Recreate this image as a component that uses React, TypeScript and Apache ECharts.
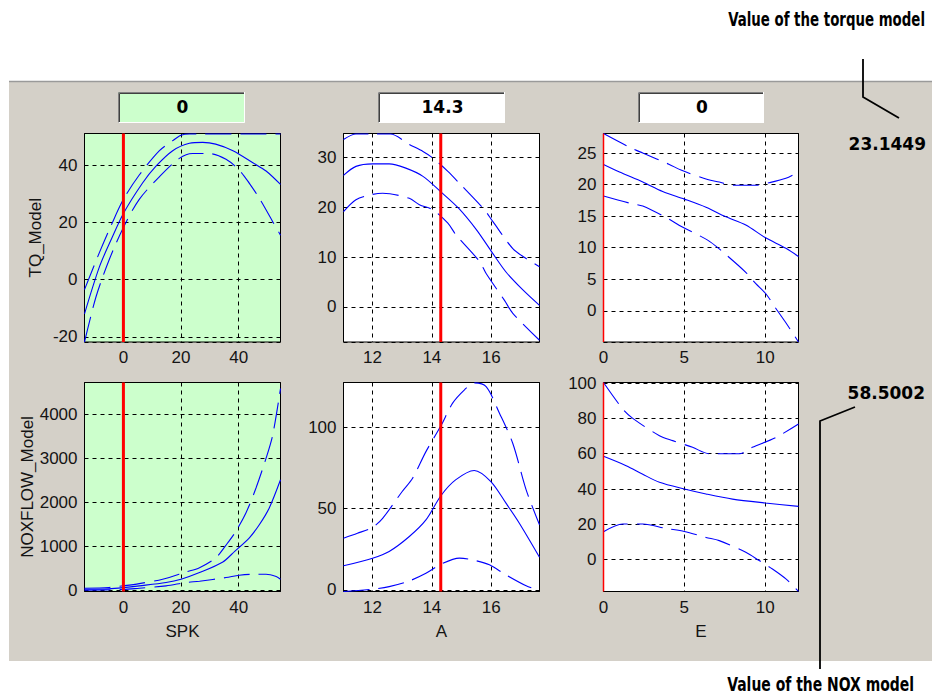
import React, { useEffect, useRef } from 'react';
import * as echarts from 'echarts';

type Pt = [number, number];

// ---------- operating point / labels ----------
const currentSPK = 0;
const currentA = 14.3;
const currentE = 0;
const inputLabels = ['0', '14.3', '0'];
const tqValueLabel = '23.1449';
const noxValueLabel = '58.5002';
const xNames = ['SPK', 'A', 'E'];
const yNames = ['TQ_Model', 'NOXFLOW_Model'];
const torqueNote = 'Value of the torque model';
const noxNote = 'Value of the NOX model';

// ---------- axis ranges & tick steps ----------
const spkRange: Pt = [-13.5, 54.5];
const aRange: Pt = [11.02, 17.63];
const eRange: Pt = [0, 12.06];
const xSteps = [20, 2, 5];

const tqRanges: Pt[] = [[-21.8, 51], [-7.05, 34.8], [-4.95, 28.1]];
const tqSteps = [20, 10, 5];
const noxRanges: Pt[] = [[-30, 4725], [-1, 127.5], [-18, 100.3]];
const noxSteps = [1000, 50, 20];

// ---------- TQ_Model vs SPK ----------
const tqSpkMean: Pt[] = [[-13.5, -12], [-8.3, 4.5], [-4, 14.5], [0, 23.1], [6.7, 33.8], [11.3, 39.6], [17.1, 45], [22.9, 47.6], [27.5, 47.9], [32, 47.3], [38, 45], [44.9, 40.8], [49.5, 37.9], [54.5, 33.2]];
const tqSpkUpper: Pt[] = [[-13.5, -3.5], [-8.3, 9.5], [-4, 19.5], [0, 28], [5.5, 36.5], [12.5, 45], [17.1, 48.5], [20, 50.4], [23, 50.8], [54.5, 50.8]];
const tqSpkLower: Pt[] = [[-13.5, -21.8], [-9.5, -6], [-4.9, 7], [0, 18.2], [5.5, 28], [12.5, 35.9], [19.4, 42.3], [24, 44], [29.8, 44], [35.6, 42], [40.2, 38.2], [43.7, 33.6], [47.2, 28.3], [51.8, 20.2], [54.5, 15.5]];

// ---------- TQ_Model vs A ----------
const tqAMean: Pt[] = [[11.02, 26.4], [11.44, 28.2], [12, 28.7], [12.56, 28.7], [13.1, 27.9], [13.7, 26.2], [14.3, 23.1], [14.9, 19.8], [15.5, 15.5], [16, 11.2], [16.5, 7], [17.07, 3.4], [17.63, 0.3]];
const tqAUpper: Pt[] = [[11.02, 33.6], [11.44, 34.7], [12, 34.7], [12.6, 34.7], [13.24, 32.6], [13.7, 31.2], [14.03, 29.9], [14.54, 27.2], [14.93, 24.8], [15.77, 19.5], [16.06, 17.1], [16.73, 11.7], [17.18, 9.7], [17.63, 8.05]];
const tqALower: Pt[] = [[11.02, 19.1], [11.44, 21.5], [11.94, 22.5], [12.34, 22.8], [13.24, 21.8], [13.58, 20.5], [14.03, 19.5], [14.54, 16.8], [14.82, 14.4], [15.61, 9.1], [15.83, 6.7], [16.45, 1.3], [16.73, -1.3], [17.63, -6.7]];

// ---------- TQ_Model vs E ----------
const tqEMean: Pt[] = [[0, 23.2], [0.99, 22], [2.43, 20.4], [3.66, 18.9], [5, 17.7], [6.34, 16.4], [7.57, 14.9], [8.8, 13.6], [10, 11.6], [11.28, 9.9], [12.06, 8.6]];
const tqEUpper: Pt[] = [[0, 28.1], [1.71, 25.8], [2.43, 25], [4.07, 23.2], [4.79, 22.3], [6.44, 20.8], [7.16, 20.4], [7.98, 19.9], [9.42, 19.9], [10.25, 20.3], [11.28, 21], [12.06, 22]];
const tqELower: Pt[] = [[0, 18.2], [1.71, 17], [2.43, 16.6], [4.07, 14.5], [4.79, 13.4], [6.44, 11.2], [7.16, 9.8], [8.8, 6.1], [9.42, 4.3], [10.04, 2.7], [10.76, 0], [11.28, -1.9], [12.06, -4.95]];

// ---------- NOXFLOW_Model vs SPK ----------
const noxSpkMean: Pt[] = [[-13.5, 20], [-5, 32], [0, 58.5], [5.5, 98], [14.8, 174], [20, 249], [26.4, 400], [34.5, 642], [38.7, 890], [43.7, 1192], [47.2, 1494], [50.6, 1872], [54.5, 2513]];
const noxSpkUpper: Pt[] = [[-13.5, 45], [-5, 62], [0, 100], [5.5, 150], [13.6, 250], [21.7, 415], [26.4, 513], [32.1, 740], [36.2, 1079], [38.7, 1306], [42.5, 1758], [46, 2325], [49.5, 3004], [51.8, 3532], [54.5, 4589]];
const noxSpkLower: Pt[] = [[-13.5, 0], [0, 16], [5.5, 45], [14.8, 98], [21.7, 174], [26.4, 204], [35.6, 287], [40.2, 340], [44.9, 362], [49.5, 362], [53, 310], [54.5, 249]];

// ---------- NOXFLOW_Model vs A ----------
const noxAMean: Pt[] = [[11.02, 14.8], [12, 19.5], [12.56, 23.6], [13.24, 32.8], [13.8, 43], [14.31, 58], [14.8, 67.6], [15.43, 73.4], [15.99, 66.6], [16.5, 53.3], [16.95, 41], [17.63, 20.1]];
const noxAUpper: Pt[] = [[11.02, 31.8], [11.49, 34.8], [12, 38.5], [12.34, 44], [13, 60.5], [13.35, 68.6], [13.8, 85], [14.31, 101], [14.7, 114.8], [15.1, 123], [15.43, 127.3], [15.83, 125], [16.28, 108.6], [16.73, 90], [17.18, 61.5], [17.63, 40]];
const noxALower: Pt[] = [[11.02, -1], [12, 0.4], [12.56, 2], [13.24, 5.5], [13.8, 10.2], [14.31, 15.8], [14.93, 19.5], [15.38, 18.4], [15.94, 15.4], [16.5, 9.2], [17.18, 2.5], [17.63, -0.4]];

// ---------- NOXFLOW_Model vs E ----------
const noxEMean: Pt[] = [[0, 58.5], [1.4, 53.2], [2.4, 48.5], [3.46, 43.8], [5, 40], [6.34, 37.2], [7.98, 34.3], [10, 32.1], [12.06, 30.2]];
const noxEUpper: Pt[] = [[0, 100.3], [1.19, 85.3], [1.81, 80], [3.46, 70.2], [4.28, 67.4], [5.51, 63.6], [6.54, 60], [8.4, 60], [9.2, 63.6], [10.66, 69.2], [12.06, 76.8]];
const noxELower: Pt[] = [[0, 15.8], [1.19, 20.2], [2.43, 20.2], [3.87, 17.7], [5, 16], [6.34, 12.6], [7.16, 10.8], [8.8, 4.2], [9.63, -0.5], [10.45, -5.3], [11.28, -10.9], [12.06, -17.9]];

// ---------- layout (px) ----------
const gridRects = [
  { left: 84.5, top: 133.5, width: 196, height: 208.5 },
  { left: 343.5, top: 133.5, width: 196, height: 208.5 },
  { left: 603.5, top: 133.5, width: 195, height: 208.5 },
  { left: 84.5, top: 382.5, width: 196, height: 209 },
  { left: 343.5, top: 382.5, width: 196, height: 209 },
  { left: 603.5, top: 382.5, width: 195, height: 209 },
];
const boxRects = [
  { x: 118, y: 92, w: 127, h: 31 },
  { x: 378, y: 92, w: 127, h: 31 },
  { x: 638, y: 92, w: 126, h: 31 },
];
const redWidths = [3, 3, 1.5];

const GREEN = '#ccffcc';
const GRAY = '#d4d0c8';
const BLUE = '#0000ff';
const RED = '#ff0000';
const AXIS_FONT = "'Liberation Sans', Arial, sans-serif";
const NUM_FONT = "'DejaVu Sans', sans-serif";
const NOTE_FONT = "'DejaVu Sans Condensed', 'DejaVu Sans', sans-serif";

function measure(text: string, font: string): number {
  const c = document.createElement('canvas');
  const ctx = c.getContext('2d');
  if (!ctx) return text.length * 9;
  ctx.font = font;
  return ctx.measureText(text).width;
}

function isMult(v: number, step: number): boolean {
  const r = v / step;
  return Math.abs(r - Math.round(r)) < 1e-6;
}

function boxElements(b: { x: number; y: number; w: number; h: number }, fill: string) {
  const { x, y, w, h } = b;
  return [
    { type: 'rect', z: -5, shape: { x, y, width: w, height: h }, style: { fill } },
    { type: 'polyline', z: -4, shape: { points: [[x + 0.5, y + h], [x + 0.5, y + 0.5], [x + w, y + 0.5]] }, style: { stroke: '#808080', lineWidth: 1, fill: 'none' } },
    { type: 'polyline', z: -4, shape: { points: [[x + 1.5, y + h - 1], [x + 1.5, y + 1.5], [x + w - 1, y + 1.5]] }, style: { stroke: '#404040', lineWidth: 1, fill: 'none' } },
    { type: 'polyline', z: -4, shape: { points: [[x + 0.5, y + h - 0.5], [x + w - 0.5, y + h - 0.5], [x + w - 0.5, y]] }, style: { stroke: '#ffffff', lineWidth: 1, fill: 'none' } },
  ];
}

export default function App() {
  const ref = useRef<HTMLDivElement>(null);

  useEffect(() => {
    if (!ref.current) return;
    const chart = echarts.init(ref.current, undefined, { renderer: 'svg' });

    const xRanges = [spkRange, aRange, eRange];
    const currents = [currentSPK, currentA, currentE];
    const panels = [
      { yr: tqRanges[0], ys: tqSteps[0], c: [tqSpkMean, tqSpkUpper, tqSpkLower] },
      { yr: tqRanges[1], ys: tqSteps[1], c: [tqAMean, tqAUpper, tqALower] },
      { yr: tqRanges[2], ys: tqSteps[2], c: [tqEMean, tqEUpper, tqELower] },
      { yr: noxRanges[0], ys: noxSteps[0], c: [noxSpkMean, noxSpkUpper, noxSpkLower] },
      { yr: noxRanges[1], ys: noxSteps[1], c: [noxAMean, noxAUpper, noxALower] },
      { yr: noxRanges[2], ys: noxSteps[2], c: [noxEMean, noxEUpper, noxELower] },
    ];

    const grid: any[] = [];
    const xAxis: any[] = [];
    const yAxis: any[] = [];
    const series: any[] = [];
    const splitLine = { show: true, lineStyle: { color: '#000', width: 1, type: [4, 4] } };
    const labelStyle = { fontFamily: AXIS_FONT, fontSize: 17, color: '#141414' };

    panels.forEach((p, i) => {
      const col = i % 3;
      const row = Math.floor(i / 3);
      const xr = xRanges[col];
      const xs = xSteps[col];
      const gr = gridRects[i];
      grid.push({
        ...gr,
        show: true,
        backgroundColor: col === 0 ? GREEN : '#ffffff',
        borderColor: '#000',
        borderWidth: 1,
        containLabel: false,
      });
      xAxis.push({
        type: 'value',
        gridIndex: i,
        min: xr[0],
        max: xr[1],
        minInterval: xs,
        maxInterval: xs,
        axisLine: { show: false },
        axisTick: { show: false },
        splitLine,
        axisLabel: {
          ...labelStyle,
          margin: 7,
          hideOverlap: false,
          formatter: (v: number) => (isMult(v, xs) ? String(Math.round(v * 1000) / 1000) : ''),
        },
        name: row === 1 ? xNames[col] : '',
        nameLocation: 'middle',
        nameGap: 31,
        nameTextStyle: { ...labelStyle },
      });
      yAxis.push({
        type: 'value',
        gridIndex: i,
        min: p.yr[0],
        max: p.yr[1],
        minInterval: p.ys,
        maxInterval: p.ys,
        axisLine: { show: false },
        axisTick: { show: false },
        splitLine,
        axisLabel: {
          ...labelStyle,
          margin: 7,
          hideOverlap: false,
          formatter: (v: number) => (isMult(v, p.ys) ? String(Math.round(v * 1000) / 1000) : ''),
        },
        name: col === 0 ? yNames[row] : '',
        nameLocation: 'middle',
        nameGap: 41,
        nameTextStyle: { ...labelStyle },
      });
      p.c.forEach((data, k) => {
        series.push({
          type: 'line',
          xAxisIndex: i,
          yAxisIndex: i,
          data,
          smooth: 0.3,
          symbol: 'none',
          showSymbol: false,
          silent: true,
          lineStyle: { color: BLUE, width: 1.1, type: k === 0 ? 'solid' : [26, 9] },
          z: 3,
        });
      });
      series.push({
        type: 'line',
        xAxisIndex: i,
        yAxisIndex: i,
        data: [[currents[col], p.yr[0]], [currents[col], p.yr[1]]],
        symbol: 'none',
        showSymbol: false,
        silent: true,
        lineStyle: { color: RED, width: redWidths[col] },
        z: 4,
      });
    });

    const noteFont = `bold 19px ${NOTE_FONT}`;
    const torqueScale = 197 / Math.max(1, measure(torqueNote, noteFont));
    const noxScale = 187 / Math.max(1, measure(noxNote, noteFont));

    const graphic: any[] = [
      { type: 'rect', z: -10, shape: { x: 9, y: 81, width: 923, height: 580 }, style: { fill: GRAY } },
      { type: 'line', z: -9, shape: { x1: 9, y1: 81.5, x2: 932, y2: 81.5 }, style: { stroke: '#9a9a9a', lineWidth: 1.5 } },
      ...boxElements(boxRects[0], GREEN),
      ...boxElements(boxRects[1], '#ffffff'),
      ...boxElements(boxRects[2], '#ffffff'),
      ...inputLabels.map((t, i) => ({
        type: 'text',
        z: 10,
        x: boxRects[i].x + boxRects[i].w / 2 + 1,
        y: boxRects[i].y + 15,
        style: { text: t, fontFamily: NUM_FONT, fontWeight: 'bold', fontSize: 17, fill: '#000', align: 'center', verticalAlign: 'middle' },
      })),
      {
        type: 'text', z: 10, x: 926, y: 144,
        style: { text: tqValueLabel, fontFamily: NUM_FONT, fontWeight: 'bold', fontSize: 17, fill: '#000', align: 'right', verticalAlign: 'middle' },
      },
      {
        type: 'text', z: 10, x: 925, y: 393,
        style: { text: noxValueLabel, fontFamily: NUM_FONT, fontWeight: 'bold', fontSize: 17, fill: '#000', align: 'right', verticalAlign: 'middle' },
      },
      {
        type: 'text', z: 10, x: 925, y: 19, scaleX: torqueScale,
        style: { text: torqueNote, fontFamily: NOTE_FONT, fontWeight: 'bold', fontSize: 19, fill: '#000', align: 'right', verticalAlign: 'middle' },
      },
      {
        type: 'text', z: 10, x: 914, y: 684, scaleX: noxScale,
        style: { text: noxNote, fontFamily: NOTE_FONT, fontWeight: 'bold', fontSize: 19, fill: '#000', align: 'right', verticalAlign: 'middle' },
      },
      { type: 'polyline', z: 10, shape: { points: [[863, 59], [863, 97], [899, 118]] }, style: { stroke: '#000', lineWidth: 1.8, fill: 'none' } },
      { type: 'polyline', z: 10, shape: { points: [[855, 407], [820, 421], [820, 669]] }, style: { stroke: '#000', lineWidth: 1.8, fill: 'none' } },
    ];

    chart.setOption({
      animation: false,
      backgroundColor: '#ffffff',
      textStyle: { fontFamily: AXIS_FONT },
      grid,
      xAxis,
      yAxis,
      series,
      graphic,
    });

    return () => {
      chart.dispose();
    };
  }, []);

  return (
    <div
      ref={ref}
      style={{ position: 'absolute', left: 0, top: 0, width: 934, height: 697 }}
    />
  );
}
